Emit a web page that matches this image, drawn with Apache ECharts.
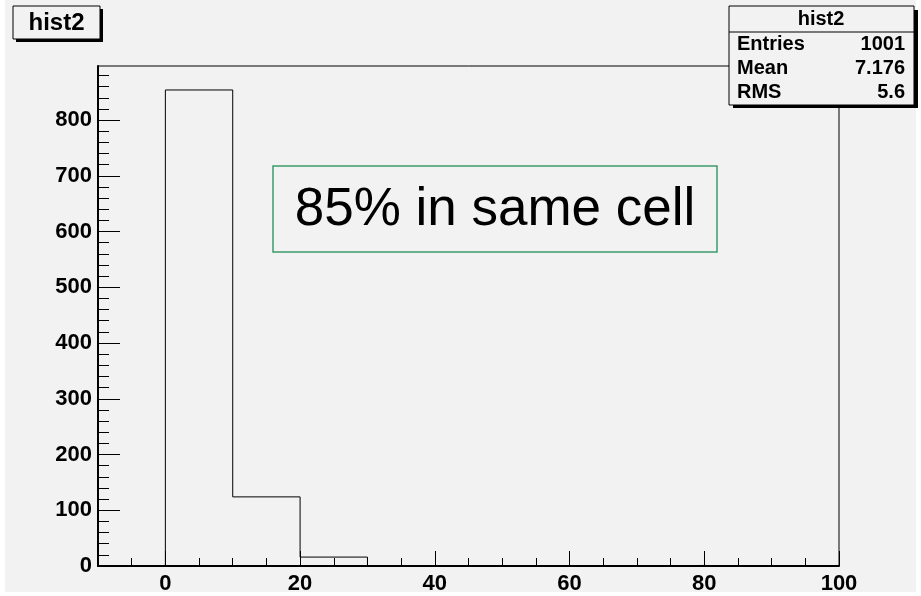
<!DOCTYPE html>
<html>
<head>
<meta charset="utf-8">
<script src="https://cdn.jsdelivr.net/npm/echarts@6/dist/echarts.min.js"></script>
<style>
html,body{margin:0;padding:0;background:#fff;}
#c{width:921px;height:596px;}
</style>
</head>
<body>
<div id="c"></div>
<script>
// ---- data ----
const histName = 'hist2';
const binEdges = [0, 10, 20, 30, 40, 50, 60, 70, 80, 90];
const binCounts = [854, 124, 16, 0, 0, 0, 0, 1, 0, 0];
const histEnd = 100;
const xTickValues = [0, 20, 40, 60, 80, 100];
const xMinorTickValues = [-5, 5, 10, 15, 25, 30, 35, 45, 50, 55, 65, 70, 75, 85, 90, 95];
const yTickValues = [0, 100, 200, 300, 400, 500, 600, 700, 800];
const yMinorTickValues = [20, 40, 60, 80, 120, 140, 160, 180, 220, 240, 260, 280, 320, 340, 360, 380,
  420, 440, 460, 480, 520, 540, 560, 580, 620, 640, 660, 680, 720, 740, 760, 780, 820, 840, 860, 880];
const statLabels = ['Entries', 'Mean', 'RMS'];
const statValues = ['1001', '7.176', '5.6'];
const noteText = '85% in same cell';
const xRange = [-10, 100];
const yRange = [0, 897];

// step outline data built from bins
const stepData = [[binEdges[0], 0]];
binEdges.forEach((e, i) => stepData.push([e, binCounts[i]]));
stepData.push([histEnd, 0]);

const FONT = 'Liberation Sans, Arial, sans-serif';
const chart = echarts.init(document.getElementById('c'), null, {renderer: 'canvas'});

const gridL = 98, gridT = 66, gridR = 921 - 839, gridB = 596 - 566;

const option = {
  animation: false,
  backgroundColor: 'transparent',
  grid: {left: gridL, top: gridT, right: gridR, bottom: gridB, show: true,
    borderColor: '#000', borderWidth: 1, backgroundColor: 'transparent', containLabel: false},
  xAxis: [{
    type: 'value', min: xRange[0], max: xRange[1], position: 'bottom',
    axisLine: {show: true, onZero: false, lineStyle: {color: '#000', width: 2}},
    axisTick: {show: true, inside: true, length: 15, customValues: xTickValues, lineStyle: {color: '#000', width: 1}},
    axisLabel: {show: true, customValues: xTickValues, margin: 7, color: '#000', fontFamily: FONT, fontWeight: 'bold', fontSize: 22},
    splitLine: {show: false}
  }, {
    type: 'value', min: xRange[0], max: xRange[1], position: 'bottom',
    axisLine: {show: false, onZero: false},
    axisTick: {show: true, inside: true, length: 8, customValues: xMinorTickValues, lineStyle: {color: '#000', width: 1}},
    axisLabel: {show: false},
    splitLine: {show: false}
  }],
  yAxis: [{
    type: 'value', min: yRange[0], max: yRange[1], position: 'left',
    axisLine: {show: true, onZero: false, lineStyle: {color: '#000', width: 2}},
    axisTick: {show: true, inside: true, length: 22, customValues: yTickValues, lineStyle: {color: '#000', width: 1}},
    axisLabel: {show: true, customValues: yTickValues, margin: 6, color: '#000', fontFamily: FONT, fontWeight: 'bold', fontSize: 22},
    splitLine: {show: false}
  }, {
    type: 'value', min: yRange[0], max: yRange[1], position: 'left',
    axisLine: {show: false, onZero: false},
    axisTick: {show: true, inside: true, length: 11, customValues: yMinorTickValues, lineStyle: {color: '#000', width: 1}},
    axisLabel: {show: false},
    splitLine: {show: false}
  }],
  series: [{
    type: 'line', name: histName, xAxisIndex: 0, yAxisIndex: 0,
    step: 'end', showSymbol: false, symbol: 'none',
    data: stepData,
    lineStyle: {color: '#000', width: 1},
    z: 3
  }],
  graphic: [
    {type: 'rect', z: -100, silent: true, shape: {x: 5, y: 0, width: 911, height: 592}, style: {fill: '#f2f2f2'}},
    // title box
    {type: 'rect', z: 10, shape: {x: 16, y: 9, width: 87, height: 33}, style: {fill: '#000'}},
    {type: 'rect', z: 11, shape: {x: 13, y: 6, width: 87, height: 33}, style: {fill: '#f2f2f2', stroke: '#000', lineWidth: 1}},
    {type: 'text', z: 12, style: {x: 56.5, y: 23, text: histName, align: 'center', verticalAlign: 'middle',
      fill: '#000', font: 'bold 24px ' + FONT}},
    // stats box
    {type: 'rect', z: 10, shape: {x: 733, y: 10, width: 185, height: 98}, style: {fill: '#000'}},
    {type: 'rect', z: 11, shape: {x: 729, y: 6, width: 185, height: 99}, style: {fill: '#f2f2f2', stroke: '#000', lineWidth: 1}},
    {type: 'line', z: 12, shape: {x1: 729, y1: 32, x2: 914, y2: 32}, style: {stroke: '#000', lineWidth: 1}},
    {type: 'text', z: 12, style: {x: 821, y: 19, text: histName, align: 'center', verticalAlign: 'middle',
      fill: '#000', font: 'bold 20px ' + FONT}},
    ...statLabels.map((s, i) => ({type: 'text', z: 12, style: {x: 737, y: 44 + i * 24, text: s, align: 'left',
      verticalAlign: 'middle', fill: '#000', font: 'bold 20px ' + FONT}})),
    ...statValues.map((s, i) => ({type: 'text', z: 12, style: {x: 905, y: 44 + i * 24, text: s, align: 'right',
      verticalAlign: 'middle', fill: '#000', font: 'bold 20px ' + FONT}})),
    // note box
    {type: 'rect', z: 12, shape: {x: 273, y: 166, width: 444, height: 86},
      style: {fill: '#f2f2f2', stroke: '#3c9c6c', lineWidth: 1.5}},
    {type: 'text', z: 13, style: {x: 495, y: 210, text: noteText, align: 'center', verticalAlign: 'middle',
      fill: '#000', font: '53px ' + FONT}}
  ]
};
chart.setOption(option);
</script>
</body>
</html>
